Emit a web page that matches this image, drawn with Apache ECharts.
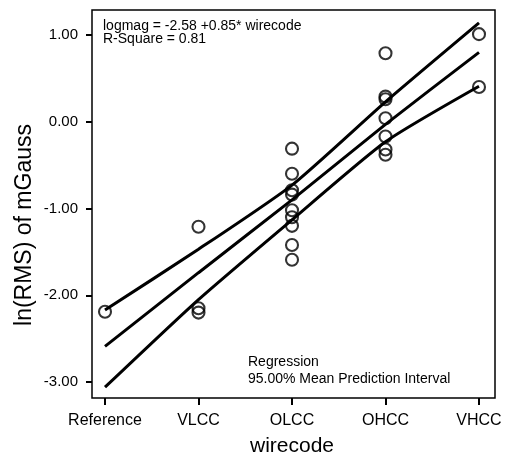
<!DOCTYPE html>
<html>
<head>
<meta charset="utf-8">
<script src="https://cdn.jsdelivr.net/npm/echarts@6/dist/echarts.min.js"></script>
<style>
  html, body { margin: 0; padding: 0; background: #fff; }
  #chart { width: 514px; height: 453px; }
</style>
</head>
<body>
<div id="chart"></div>
<script>
// wirecode categories (coded 0..4 on the x axis)
var wirecodes = ['Reference', 'VLCC', 'OLCC', 'OHCC', 'VHCC']
var yTicks = [-3, -2, -1, 0, 1]

// observations: wirecode index and ln(RMS) of mGauss
var obsCode = [0, 1, 1, 1, 2, 2, 2, 2, 2, 2, 2, 2, 2, 3, 3, 3, 3, 3, 3, 3, 4, 4]
var obsLogmag = [-2.19, -1.21, -2.15, -2.2, -0.31, -0.6, -0.79, -0.84, -1.02, -1.1, -1.2, -1.42, -1.59,
  0.79, 0.29, 0.26, 0.04, -0.17, -0.32, -0.38, 1.01, 0.4]

// regression line and 95% mean prediction interval, read at each wirecode
var fitLine = [-2.59, -1.74, -0.9, -0.03, 0.8]
var upperBand = [-2.17, -1.47, -0.73, 0.23, 1.14]
var lowerBand = [-3.06, -2.05, -1.13, -0.23, 0.41]

var chart = echarts.init(document.getElementById('chart'))

var points = obsCode.map(function (c, i) { return [c, obsLogmag[i]] })
function toLine(arr) { return arr.map(function (v, i) { return [i, v] }) }

var font = 'Liberation Sans, Arial, sans-serif'
var lineStyle = { color: '#000', width: 3 }

chart.setOption({
  animation: false,
  backgroundColor: '#fff',
  // keep the plot box fixed, labels may sit outside it
  grid: { left: 105, right: 35, top: 35, bottom: 71, outerBoundsMode: 'none', containLabel: false },
  xAxis: {
    type: 'value',
    min: 0,
    max: 4,
    interval: 1,
    offset: 16,
    name: 'wirecode',
    nameLocation: 'middle',
    nameGap: 38,
    nameTextStyle: { color: '#000', fontSize: 21, fontFamily: font },
    axisLine: { show: false, onZero: false },
    axisTick: { show: true, length: 7, lineStyle: { color: '#000', width: 2 } },
    axisLabel: {
      color: '#000', fontSize: 16, fontFamily: font, margin: 15,
      formatter: function (v) { return wirecodes[v] || '' }
    },
    splitLine: { show: false }
  },
  yAxis: {
    type: 'value',
    min: yTicks[0],
    max: yTicks[yTicks.length - 1],
    interval: 1,
    offset: 13,
    axisLine: { show: false, onZero: false },
    axisTick: { show: true, length: 6, lineStyle: { color: '#000', width: 2 } },
    axisLabel: {
      color: '#000', fontSize: 15, fontFamily: font, margin: 14,
      formatter: function (v) { return v.toFixed(2) }
    },
    splitLine: { show: false }
  },
  graphic: [
    {
      type: 'rect',
      shape: { x: 92, y: 10, width: 403, height: 388 },
      style: { fill: 'none', stroke: '#000', lineWidth: 1.5 },
      silent: true
    },
    {
      // y axis title, sits a little below the middle of the axis
      type: 'text', x: 25, y: 225, rotation: Math.PI / 2,
      style: {
        text: 'ln(RMS) of mGauss', fill: '#000', fontSize: 23, fontFamily: font,
        align: 'center', verticalAlign: 'middle'
      }
    },
    {
      type: 'text', left: 103, top: 19,
      style: { text: 'logmag = -2.58 +0.85* wirecode', fill: '#000', fontSize: 14, fontFamily: font }
    },
    {
      type: 'text', left: 103, top: 32,
      style: { text: 'R-Square = 0.81', fill: '#000', fontSize: 14, fontFamily: font }
    },
    {
      type: 'text', left: 248, top: 355,
      style: { text: 'Regression', fill: '#000', fontSize: 14, fontFamily: font }
    },
    {
      type: 'text', left: 248, top: 372,
      style: { text: '95.00% Mean Prediction Interval', fill: '#000', fontSize: 14, fontFamily: font }
    }
  ],
  series: [
    {
      name: 'upper',
      type: 'line',
      data: toLine(upperBand),
      smooth: 0.2,
      symbol: 'none',
      clip: false,
      lineStyle: lineStyle
    },
    {
      name: 'fit',
      type: 'line',
      data: toLine(fitLine),
      smooth: 0.2,
      symbol: 'none',
      clip: false,
      lineStyle: lineStyle
    },
    {
      name: 'lower',
      type: 'line',
      data: toLine(lowerBand),
      smooth: 0.2,
      symbol: 'none',
      clip: false,
      lineStyle: lineStyle
    },
    {
      name: 'logmag',
      type: 'scatter',
      data: points,
      symbol: 'circle',
      symbolSize: 12,
      clip: false,
      itemStyle: { color: 'rgba(0,0,0,0)', borderColor: '#000', borderWidth: 2.1 }
    }
  ]
})
</script>
</body>
</html>
